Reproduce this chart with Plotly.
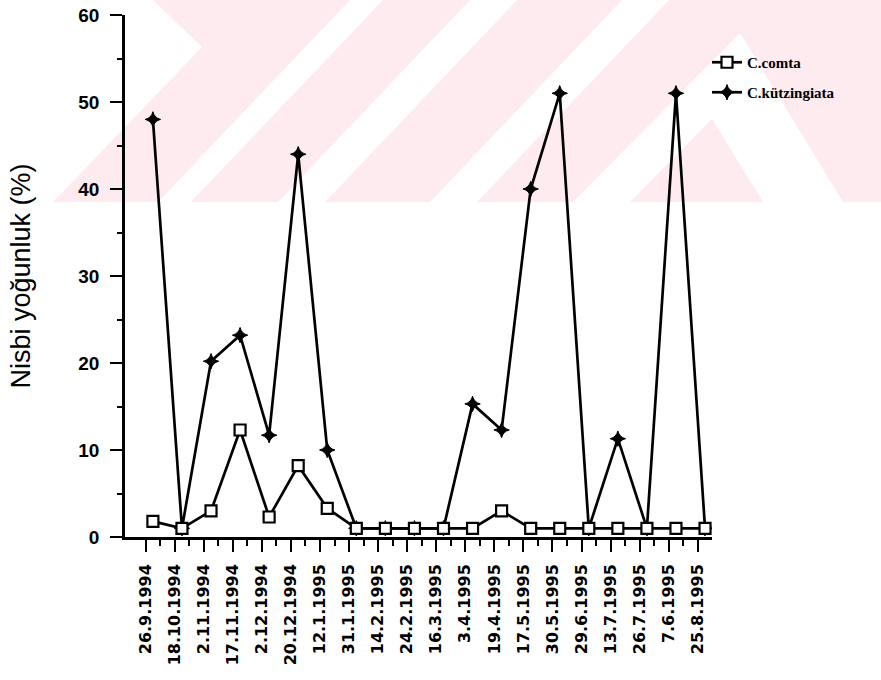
import plotly.graph_objects as go

# ---- data ----
dates = ["26.9.1994", "18.10.1994", "2.11.1994", "17.11.1994", "2.12.1994",
         "20.12.1994", "12.1.1995", "31.1.1995", "14.2.1995", "24.2.1995",
         "16.3.1995", "3.4.1995", "19.4.1995", "17.5.1995", "30.5.1995",
         "29.6.1995", "13.7.1995", "26.7.1995", "7.6.1995", "25.8.1995"]
c_comta = [1.8, 1.0, 3.0, 12.3, 2.3, 8.2, 3.3, 1.0, 1.0, 1.0,
           1.0, 1.0, 3.0, 1.0, 1.0, 1.0, 1.0, 1.0, 1.0, 1.0]
c_kutz = [48.0, 1.0, 20.2, 23.2, 11.7, 44.0, 10.0, 1.0, 1.0, 1.0,
          1.0, 15.3, 12.3, 40.0, 51.0, 1.0, 11.3, 1.0, 51.0, 1.0]
y_ticks = [0, 10, 20, 30, 40, 50, 60]

W, H = 881, 680
L, R, T, B = 125, 169, 15, 143
PW, PH = W - L - R, H - T - B

idx = list(range(len(dates)))

fig = go.Figure()
fig.add_trace(go.Scatter(
    x=idx, y=c_kutz, name="C.kützingiata", mode="lines+markers",
    line=dict(color="black", width=2.7),
    marker=dict(symbol="star-diamond", size=11, color="black",
                line=dict(color="black", width=1)),
    legend="legend2"))
fig.add_trace(go.Scatter(
    x=idx, y=c_comta, name="C.comta", mode="lines+markers",
    line=dict(color="black", width=2.7),
    marker=dict(symbol="square", size=11, color="white",
                line=dict(color="black", width=2.2)),
    legend="legend"))

# ---- watermark (decorative background), given in pixel coords ----
def path(pts):
    s = ""
    for i, (px, py) in enumerate(pts):
        xp = (px - L) / PW
        yp = (H - B - py) / PH
        s += ("M" if i == 0 else "L") + f"{xp:.4f},{yp:.4f} "
    return s + "Z"

pink = "#fdebf0"
shapes = [
    dict(type="path", path=path([(153, 0), (202, 47), (53, 202), (881, 202), (881, 0)]),
         fillcolor=pink, line=dict(width=0)),
]
for poly in [
    [(350, 0), (383, 0), (191, 202), (158, 202)],
    [(470, 0), (517, 0), (325, 202), (278, 202)],
    [(622, 0), (669, 0), (477, 202), (430, 202)],
    [(740, 33), (843, 202), (763, 202), (712, 119), (630, 202), (573, 202)],
]:
    shapes.append(dict(type="path", path=path(poly), fillcolor="white",
                       line=dict(width=0)))
for s in shapes:
    s.update(xref="paper", yref="paper", layer="below")

xtickfont = dict(family="DejaVu Sans", size=16, color="black", weight="bold")
ytickfont = dict(family="Liberation Sans", size=19, color="black", weight="bold")
legfont = dict(family="Liberation Serif", size=15, color="black", weight="bold")

fig.update_layout(
    width=W, height=H, autosize=False,
    margin=dict(l=L, r=R, t=T, b=B),
    paper_bgcolor="white", plot_bgcolor="rgba(0,0,0,0)",
    shapes=shapes,
    showlegend=True,
    legend=dict(x=(707 - L) / PW, y=(H - B - 46) / PH, xanchor="left", yanchor="top",
                bgcolor="rgba(0,0,0,0)", font=legfont),
    legend2=dict(x=(707 - L) / PW, y=(H - B - 76) / PH, xanchor="left", yanchor="top",
                 bgcolor="rgba(0,0,0,0)", font=legfont),
    xaxis=dict(
        range=[-0.96, len(dates) - 1 + 0.24],
        tickmode="array", tickvals=[i - 0.25 for i in idx], ticktext=dates,
        tickangle=-90, ticks="outside", ticklen=12, tickwidth=2, tickcolor="black",
        minor=dict(tickmode="array", tickvals=[i + 0.25 for i in idx],
                   ticks="outside", ticklen=6, tickwidth=2, tickcolor="black"),
        showline=True, linecolor="black", linewidth=2.5,
        showgrid=False, zeroline=False, tickfont=xtickfont,
        ticklabelstandoff=6, automargin=False, fixedrange=True),
    yaxis=dict(
        range=[0, 60], tickmode="array", tickvals=y_ticks,
        ticks="outside", ticklen=12, tickwidth=2, tickcolor="black",
        minor=dict(dtick=5, ticks="outside", ticklen=5, tickwidth=2, tickcolor="black"),
        showline=True, linecolor="black", linewidth=2.5,
        showgrid=False, zeroline=False, tickfont=ytickfont,
        ticklabelstandoff=7, automargin=False,
        title=dict(text="Nisbi yoğunluk (%)", standoff=40,
                   font=dict(family="Liberation Sans", size=27, color="black")),
        fixedrange=True),
)

fig.write_html("out.html", config={"displayModeBar": False},
               post_script="document.body.style.margin='0';document.body.style.padding='0';")
